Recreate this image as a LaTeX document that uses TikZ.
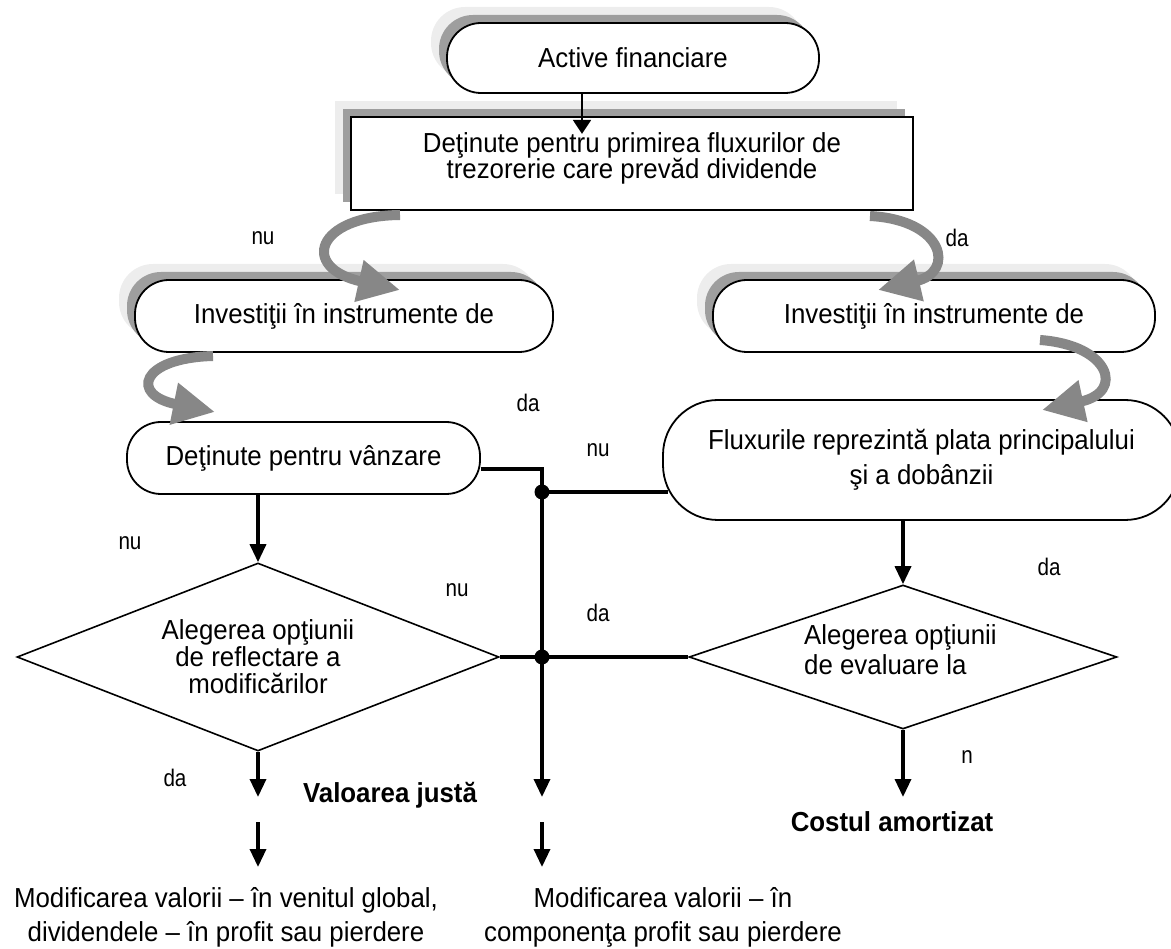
\documentclass[tikz,border=0pt]{standalone}
\usepackage{fontspec}
\setmainfont{Liberation Sans}[FakeStretch=0.94]
\newfontfamily\lblfont{Liberation Sans}[FakeStretch=0.86]
\usetikzlibrary{shapes.geometric,arrows.meta,shadows}
\begin{document}
\begin{tikzpicture}[x=1pt,y=-1pt,
  txt/.style={font=\fontsize{27.5}{34}\selectfont, align=center, inner sep=0pt},
  lbl/.style={font=\lblfont\fontsize{24}{26}\selectfont, inner sep=0pt},
  bold/.style={font=\fontsize{27.5}{30}\selectfont\bfseries, inner sep=0pt},
  shad/.style={drop shadow={shadow xshift=-16pt,shadow yshift=16pt,fill=black!7,opacity=1},
               drop shadow={shadow xshift=-8pt,shadow yshift=8pt,fill=black!38,opacity=1}},
  term/.style={draw, line width=1.8pt, fill=white, rounded corners=34pt, inner sep=0pt, font=\fontsize{27.5}{27}\selectfont},
  proc/.style={draw, line width=1.8pt, fill=white, inner sep=0pt},
  dec/.style={draw, line width=1.6pt, diamond, inner sep=0pt, aspect=2.5, font=\fontsize{27.5}{27}\selectfont, align=center},
  thinflow/.style={line width=1.8pt, -{Triangle[length=14pt 0 0,width=18pt 0 0]}},
  flow/.style={line width=3.4pt, -{Triangle[length=18pt 0 0,width=16pt 0 0]}},
  wire/.style={line width=3.4pt},
  garrow/.style={draw=black!47, line width=10pt, -{Triangle[length=42pt 0 0,width=40pt 0 0]}},
  dot/.style={circle, fill=black, inner sep=0pt, minimum size=15pt}]

\useasboundingbox (0,0) rectangle (1171,949);

% boxes
\node[term,shad,minimum width=372pt,minimum height=70pt] (act) at (633,58) {Active financiare};
\node[proc,shad,minimum width=562pt,minimum height=93pt] (rect) at (632,163.5) {};
\node[txt,anchor=north,font=\fontsize{27.5}{26.5}\selectfont] (recttxt) at (632,132) {De\c{t}inute pentru primirea fluxurilor de\\trezorerie care prevăd dividende};
\node[term,shad,minimum width=418pt,minimum height=72pt] (invl) at (344,316) {Investiţii în instrumente de};
\node[term,shad,minimum width=442pt,minimum height=72pt] (invr) at (934,316) {Investiţii în instrumente de};
\node[term,minimum width=353pt,minimum height=72pt] (vz) at (303.5,458) {Deţinute pentru vânzare};
\node[term,rounded corners=55pt,minimum width=517pt,minimum height=120pt,align=center,font=\fontsize{27.5}{35}\selectfont] (flux) at (921.5,460) {Fluxurile reprezintă plata principalului\\şi a dobânzii};
\node[dec,minimum width=482pt,minimum height=188pt] (dl) at (258,657) {Alegerea opţiunii\\de reflectare a\\modificărilor};
\node[dec,minimum width=428pt,minimum height=144pt] (dr) at (903,657) {};
\node[txt,align=left,anchor=north west,font=\fontsize{27.5}{30}\selectfont] (drtxt) at (804,624) {Alegerea opţiunii\\de evaluare la};

% junctions
\node[dot] (j1) at (542,492) {};
\node[dot] (j2) at (542,657) {};

% coordinates for free ends
\coordinate (l1) at (258,797);
\coordinate (m1) at (542,797);
\coordinate (l2s) at (258,822);
\coordinate (l2e) at (258,867);
\coordinate (m2s) at (542,822);
\coordinate (m2e) at (542,867);

% connectors
\draw[thinflow] ([xshift=-51pt]act.south) -- ++(0,40);
\draw[flow] (dl.north |- vz.south) -- (dl.north);
\draw[wire] ([yshift=-11pt]vz.east) -| (j1.center);
\draw[wire] (j1.center) -- (j2.center);
\draw[wire] (j1.center) -- ([xshift=6pt]j1 -| flux.west);
\draw[wire] (dl.east) -- (dr.west);
\draw[flow] (j2.center) -- (m1);
\draw[flow] (flux.south -| dr.north) -- (dr.north);
\draw[flow] (dl.south) -- (l1);
\draw[flow] (dr.south) -- (dr.south |- l1);
\draw[flow] (l2s) -- (l2e);
\draw[flow] (m2s) -- (m2e);

% gray curved arrows
\coordinate (g1s) at (400,215); \coordinate (g1e) at (400,290);
\coordinate (g2s) at (213,356); \coordinate (g2e) at (215,412);
\coordinate (g3s) at (870,216); \coordinate (g3e) at (878,290);
\coordinate (g4s) at (1040,340); \coordinate (g4e) at (1042,410);
\draw[garrow] (g1s) .. controls (315,216) and (300,268) .. (g1e);
\draw[garrow] (g2s) .. controls (140,358) and (130,395) .. (g2e);
\draw[garrow] (g3s) .. controls (945,220) and (955,272) .. (g3e);
\draw[garrow] (g4s) .. controls (1110,345) and (1125,392) .. (g4e);

% labels
\node[lbl] (nu1) at (263,238) {nu};
\node[lbl] (da1) at (957,238) {da};
\node[lbl] (da2) at (528,403) {da};
\node[lbl] (nu2) at (130,543) {nu};
\node[lbl] (nu3) at (457,590) {nu};
\node[lbl] (nu4) at (598,450) {nu};
\node[lbl] (da3) at (598,613) {da};
\node[lbl] (da4) at (1049,567) {da};
\node[lbl] (da5) at (175,778) {da};
\node[lbl] (n1) at (967,757) {n};
\node[bold] (vj) at (390,795) {Valoarea justă};
\node[bold] (ca) at (892,822) {Costul amortizat};
\node[txt] (b1) at (226,917) {Modificarea valorii – în venitul global,\\dividendele – în profit sau pierdere};
\node[txt] (b2) at (663,917) {Modificarea valorii – în\\componenţa profit sau pierdere};
\end{tikzpicture}
\end{document}
